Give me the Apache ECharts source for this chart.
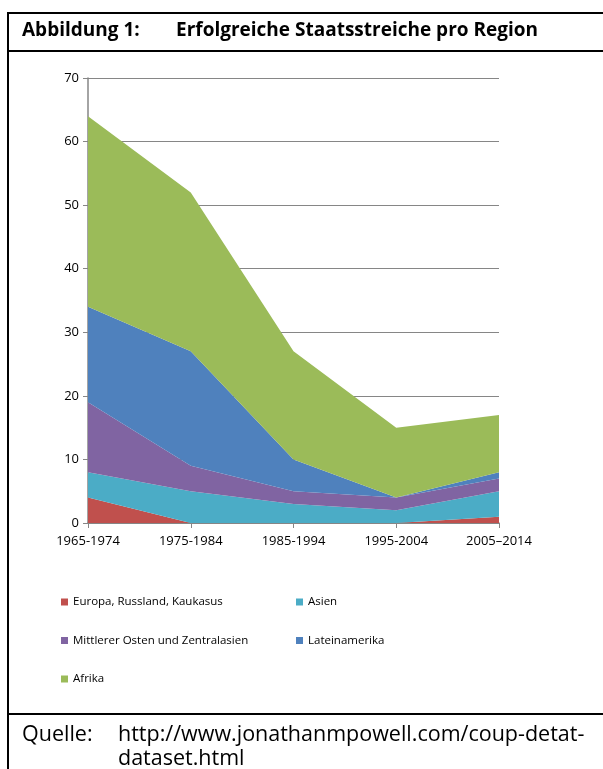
<html>
<head>
    <meta charset="utf-8">
    <script src="https://cdn.jsdelivr.net/npm/echarts@6/dist/echarts.min.js"></script>
</head>
<body>
<div id="main"></div>
<style>
    html, body, #main {
        width: 100%;
        height: 100%;
        margin: 0;
        background: #fff;
    }
</style>
<script>
    var periods = ['1965-1974', '1975-1984', '1985-1994', '1995-2004', '2005\u20132014'];
    var europa = [4, 0, 0, 0, 1];
    var asien = [4, 5, 3, 2, 4];
    var mittlererOsten = [11, 4, 2, 2, 2];
    var lateinamerika = [15, 18, 5, 0, 1];
    var afrika = [30, 25, 17, 11, 9];

    var FONT = '"Open Sans", "DejaVu Sans", sans-serif';
    var GRID_GRAY = '#868686';

    var chart = echarts.init(document.getElementById('main'));

    function areaSeries(name, values, color) {
        return {
            name: name,
            type: 'line',
            stack: 'total',
            data: values,
            symbol: 'none',
            lineStyle: {width: 0},
            areaStyle: {color: color, opacity: 1},
            itemStyle: {color: color}
        };
    }

    var legendText = {fontFamily: FONT, fontSize: 11.5, color: '#000', lineHeight: 14};
    var titleText = {fontFamily: FONT, fontSize: 19, fontWeight: 'bold', color: '#000'};
    var sourceText = {fontFamily: FONT, fontSize: 21.5, fontWeight: 'normal', color: '#000', lineHeight: 24};

    var option = {
        animation: false,
        backgroundColor: '#fff',
        textStyle: {fontFamily: FONT},
        title: [
            {text: 'Abbildung 1:', left: 17, top: 16, textStyle: titleText},
            {text: 'Erfolgreiche Staatsstreiche pro Region', left: 171, top: 16, textStyle: titleText},
            {text: 'Quelle:', left: 17, top: 718, textStyle: sourceText},
            {text: 'http://www.jonathanmpowell.com/coup-detat-\ndataset.html', left: 113, top: 718, textStyle: sourceText}
        ],
        graphic: [
            // frame of the figure box
            {type: 'line', shape: {x1: 8, y1: 13, x2: 603, y2: 13}, style: {stroke: '#000', lineWidth: 2}},
            {type: 'line', shape: {x1: 8, y1: 51, x2: 603, y2: 51}, style: {stroke: '#000', lineWidth: 2}},
            {type: 'line', shape: {x1: 8, y1: 714, x2: 603, y2: 714}, style: {stroke: '#000', lineWidth: 2}},
            {type: 'line', shape: {x1: 8, y1: 12, x2: 8, y2: 769}, style: {stroke: '#000', lineWidth: 2}}
        ],
        legend: [
            {
                data: ['Europa, Russland, Kaukasus', 'Mittlerer Osten und Zentralasien', 'Afrika'],
                orient: 'vertical', left: 56, top: 590,
                itemWidth: 7, itemHeight: 7, itemGap: 24.5, itemStyle: {borderWidth: 0},
                icon: 'rect', textStyle: legendText
            },
            {
                data: ['Asien', 'Lateinamerika'],
                orient: 'vertical', left: 291, top: 590,
                itemWidth: 7, itemHeight: 7, itemGap: 24.5, itemStyle: {borderWidth: 0},
                icon: 'rect', textStyle: legendText
            }
        ],
        grid: {left: 88, right: 104, top: 78, bottom: 246},
        xAxis: {
            type: 'category',
            data: periods,
            boundaryGap: false,
            axisLine: {lineStyle: {color: GRID_GRAY, width: 1.5}},
            axisTick: {show: true, length: 5, lineStyle: {color: GRID_GRAY}},
            axisLabel: {color: '#000', fontSize: 13, margin: 12, fontFamily: FONT}
        },
        yAxis: {
            type: 'value',
            min: 0, max: 70, interval: 10,
            axisLine: {show: true, lineStyle: {color: GRID_GRAY, width: 1.5}},
            axisTick: {show: true, length: 5, lineStyle: {color: GRID_GRAY}},
            axisLabel: {color: '#000', fontSize: 13, margin: 9, fontFamily: FONT},
            splitLine: {lineStyle: {color: GRID_GRAY, width: 1.2}}
        },
        series: [
            areaSeries('Europa, Russland, Kaukasus', europa, '#C0504D'),
            areaSeries('Asien', asien, '#4BACC6'),
            areaSeries('Mittlerer Osten und Zentralasien', mittlererOsten, '#8064A2'),
            areaSeries('Lateinamerika', lateinamerika, '#4F81BD'),
            areaSeries('Afrika', afrika, '#9BBB59')
        ]
    };

    chart.setOption(option);
</script>
</body>
</html>
